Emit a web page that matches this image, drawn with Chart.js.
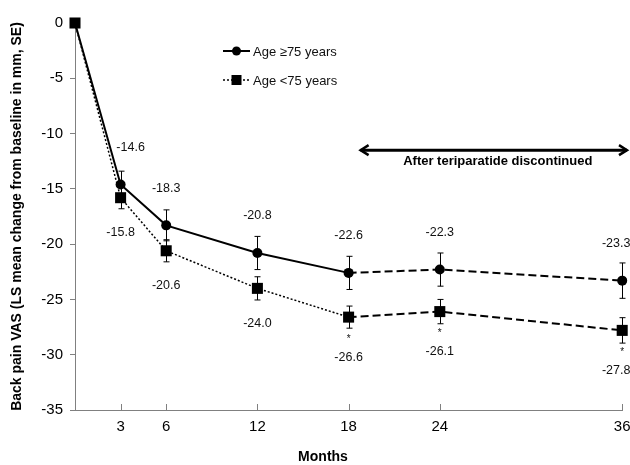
<!DOCTYPE html>
<html>
<head>
<meta charset="utf-8">
<script src="https://cdn.jsdelivr.net/npm/chart.js@4/dist/chart.umd.min.js"></script>
<style>
  html, body { margin: 0; padding: 0; background: #fff; }
  #wrap { width: 630px; height: 465px; }
</style>
</head>
<body>
<div id="wrap"><canvas id="vasChart" width="630" height="465"></canvas></div>
<script>
// Months of follow-up
const months = [0, 3, 6, 12, 18, 24, 36];

// Age >= 75 years: LS mean change and SE
const olderMean = [0, -14.6, -18.3, -20.8, -22.6, -22.3, -23.3];
const olderSE = [0, 1.2, 1.4, 1.5, 1.5, 1.5, 1.6];

// Age < 75 years: LS mean change and SE
const youngerMean = [0, -15.8, -20.6, -24.0, -26.6, -26.1, -27.8];
const youngerSE = [0, 1.0, 1.0, 1.05, 1.0, 1.1, 1.15];
const youngerStar = [false, false, false, false, true, true, true];

// Axis ticks
const xTickValues = [3, 6, 12, 18, 24, 36];
const yTickValues = [0, -5, -10, -15, -20, -25, -30, -35];

const seriesNames = ['Age \u226575 years', 'Age <75 years'];
const arrowText = 'After teriparatide discontinued';
const arrowStartMonth = 18;
const arrowLevel = -11.5;

const FONT = '"Liberation Sans", Arial, sans-serif';
const DASHED = [8, 4];
const DOTTED = [2, 2];

// draw SE whiskers, value labels and the annotations
const extrasPlugin = {
  id: 'extras',
  beforeDatasetsDraw(chart) {
    const ctx = chart.ctx;
    const x = chart.scales.x, y = chart.scales.y;
    const groups = [[olderMean, olderSE], [youngerMean, youngerSE]];
    ctx.save();
    ctx.strokeStyle = '#000';
    ctx.lineWidth = 1;
    groups.forEach(([mean, se]) => {
      months.forEach((m, i) => {
        if (!se[i]) return;
        const px = Math.round(x.getPixelForValue(m)) + 0.5;
        const top = y.getPixelForValue(mean[i] + se[i]);
        const bot = y.getPixelForValue(mean[i] - se[i]);
        ctx.beginPath();
        ctx.moveTo(px, top); ctx.lineTo(px, bot);
        ctx.moveTo(px - 3, top); ctx.lineTo(px + 3, top);
        ctx.moveTo(px - 3, bot); ctx.lineTo(px + 3, bot);
        ctx.stroke();
      });
    });
    ctx.restore();
  },
  afterDraw(chart) {
    const ctx = chart.ctx;
    const x = chart.scales.x, y = chart.scales.y;
    const area = chart.chartArea;
    ctx.save();

    // inward x tick marks
    ctx.strokeStyle = '#808080';
    ctx.lineWidth = 1;
    xTickValues.forEach(v => {
      const px = Math.round(x.getPixelForValue(v)) + 0.5;
      ctx.beginPath();
      ctx.moveTo(px, area.bottom);
      ctx.lineTo(px, area.bottom - 6);
      ctx.stroke();
    });

    // value labels
    ctx.fillStyle = '#111';
    ctx.font = '12.5px ' + FONT;
    ctx.textAlign = 'center';
    ctx.textBaseline = 'middle';
    months.forEach((m, i) => {
      if (i === 0) return;
      let px = x.getPixelForValue(m);
      if (i === 1) px += 10;
      if (px > area.right - 6) px = area.right - 6;
      ctx.fillText(olderMean[i].toFixed(1), px, y.getPixelForValue(olderMean[i]) - 37);
      let qx = x.getPixelForValue(m);
      if (qx > area.right - 6) qx = area.right - 6;
      const py = y.getPixelForValue(youngerMean[i]);
      ctx.fillText(youngerMean[i].toFixed(1), qx, py + (youngerStar[i] ? 40 : 35));
      if (youngerStar[i]) {
        ctx.font = '10px ' + FONT;
        ctx.fillText('*', x.getPixelForValue(m), py + 22);
        ctx.font = '12.5px ' + FONT;
      }
    });

    // legend
    const lx0 = 223, lx1 = 250;
    const rows = [
      { yy: 51, dash: [], width: 2, style: 'circle' },
      { yy: 80, dash: DOTTED, width: 1.5, style: 'rect' }
    ];
    rows.forEach((r, k) => {
      ctx.strokeStyle = '#000';
      ctx.lineWidth = r.width;
      ctx.setLineDash(r.dash);
      ctx.beginPath();
      ctx.moveTo(lx0, r.yy); ctx.lineTo(lx1, r.yy);
      ctx.stroke();
      ctx.setLineDash([]);
      ctx.fillStyle = '#000';
      const cx = (lx0 + lx1) / 2;
      if (r.style === 'circle') {
        ctx.beginPath(); ctx.arc(cx, r.yy, 4.5, 0, Math.PI * 2); ctx.fill();
      } else {
        ctx.fillRect(cx - 5, r.yy - 5, 10, 10);
      }
      ctx.font = '13px ' + FONT;
      ctx.textAlign = 'left';
      ctx.fillStyle = '#111';
      ctx.fillText(seriesNames[k], lx1 + 3, r.yy + 1);
    });

    // double arrow for the off-treatment period
    const ax0 = x.getPixelForValue(arrowStartMonth) + 11;
    const ax1 = chart.width - 2;
    const ay = y.getPixelForValue(arrowLevel);
    ctx.strokeStyle = '#000';
    ctx.lineWidth = 3;
    ctx.lineJoin = 'miter';
    ctx.beginPath();
    ctx.moveTo(ax0 + 1, ay); ctx.lineTo(ax1 - 1, ay);
    ctx.stroke();
    ctx.lineWidth = 2.5;
    ctx.beginPath();
    ctx.moveTo(ax0 + 9, ay - 5); ctx.lineTo(ax0 + 1, ay); ctx.lineTo(ax0 + 9, ay + 5);
    ctx.moveTo(ax1 - 9, ay - 5); ctx.lineTo(ax1 - 1, ay); ctx.lineTo(ax1 - 9, ay + 5);
    ctx.stroke();
    ctx.fillStyle = '#000';
    ctx.font = 'bold 13px ' + FONT;
    ctx.textAlign = 'center';
    ctx.fillText(arrowText, (ax0 + ax1) / 2 + 4, ay + 11);

    // x title
    ctx.font = 'bold 14px ' + FONT;
    ctx.fillText('Months', 323, 457);
    ctx.restore();
  }
};

const commonLine = {
  borderColor: '#000',
  backgroundColor: '#000',
  pointBackgroundColor: '#000',
  pointBorderColor: '#000',
  pointBorderWidth: 0,
  tension: 0,
  clip: false
};

new Chart(document.getElementById('vasChart'), {
  type: 'line',
  data: {
    datasets: [
      Object.assign({}, commonLine, {
        label: seriesNames[1],
        data: months.map((m, i) => ({ x: m, y: youngerMean[i] })),
        pointStyle: 'rect',
        pointRadius: 7.8,
        borderWidth: 1.5,
        segment: {
          borderDash: c => c.p0.parsed.x >= 18 ? DASHED : DOTTED,
          borderWidth: c => c.p0.parsed.x >= 18 ? 2 : 1.5
        }
      }),
      Object.assign({}, commonLine, {
        label: seriesNames[0],
        data: months.map((m, i) => ({ x: m, y: olderMean[i] })),
        pointStyle: 'circle',
        pointRadius: 5,
        borderWidth: 2,
        segment: {
          borderDash: c => c.p0.parsed.x >= 18 ? DASHED : []
        }
      })
    ]
  },
  options: {
    responsive: false,
    animation: false,
    layout: { padding: { top: 23, right: 7, left: 0, bottom: 0 } },
    plugins: { legend: { display: false }, tooltip: { enabled: false } },
    scales: {
      x: {
        type: 'linear',
        min: 0,
        max: 36,
        afterBuildTicks: s => { s.ticks = xTickValues.map(v => ({ value: v })); },
        afterFit: s => { s.height = 55; s.paddingLeft = 0; s.paddingRight = 0; },
        grid: { display: false, drawTicks: false },
        border: { color: '#808080', width: 1 },
        ticks: { color: '#000', font: { family: FONT, size: 15 }, padding: 8, maxRotation: 0 }
      },
      y: {
        min: -35,
        max: 0,
        afterBuildTicks: s => { s.ticks = yTickValues.map(v => ({ value: v })); },
        afterFit: s => { s.width = 75; s.paddingTop = 0; s.paddingBottom = 0; },
        grid: { drawOnChartArea: false, tickLength: 5, color: '#808080' },
        border: { color: '#808080', width: 1 },
        ticks: { color: '#000', font: { family: FONT, size: 15 }, padding: 7 },
        title: {
          display: true,
          text: 'Back pain VAS (LS mean change from baseline in mm, SE)',
          color: '#000',
          font: { family: FONT, size: 14, weight: 'bold' },
          padding: { top: 9, bottom: 0 }
        }
      }
    }
  },
  plugins: [extrasPlugin]
});
</script>
</body>
</html>
